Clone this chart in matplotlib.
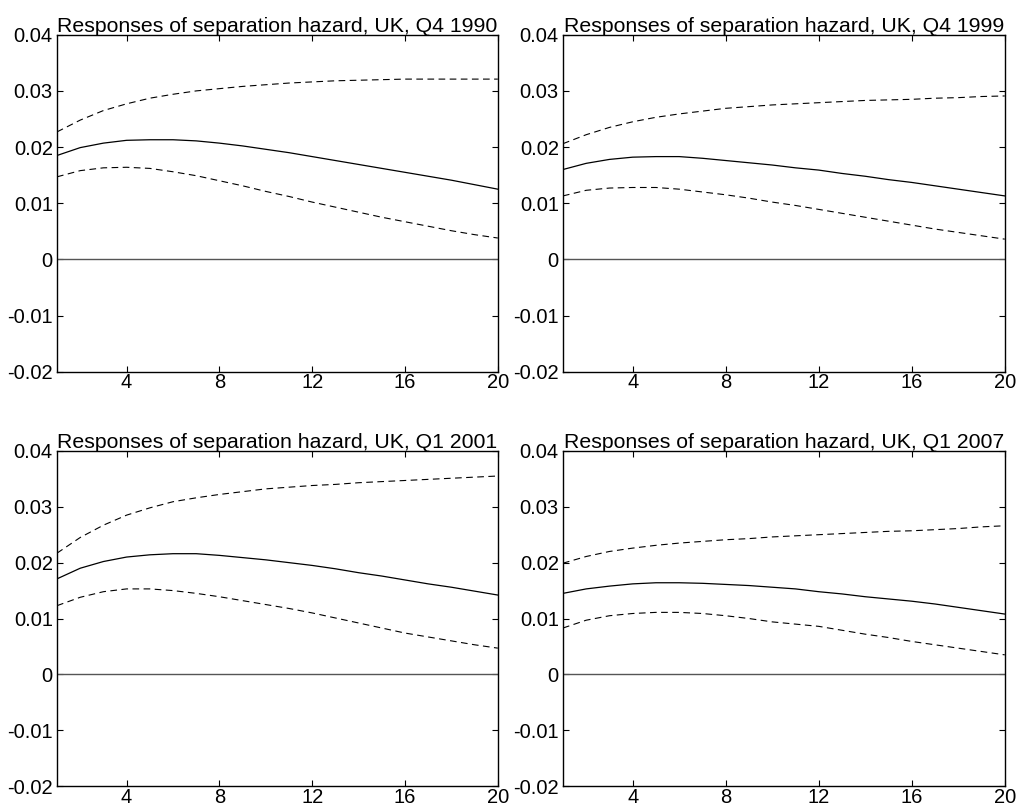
import numpy as np
import matplotlib
matplotlib.use("Agg")
import matplotlib.pyplot as plt
from matplotlib.ticker import FixedLocator, FuncFormatter

plt.rcParams["font.family"] = ["Liberation Sans", "DejaVu Sans"]

# ── Data ──────────────────────────────────────────────────────────────────────
horizon = np.arange(1, 21)

titles = [
    "Responses of separation hazard, UK, Q4 1990",
    "Responses of separation hazard, UK, Q4 1999",
    "Responses of separation hazard, UK, Q1 2001",
    "Responses of separation hazard, UK, Q1 2007",
]

q4_1990_mid = [0.0185, 0.0199, 0.0207, 0.0212, 0.0213, 0.0213, 0.0211, 0.0207, 0.0202, 0.0196,
               0.0190, 0.0183, 0.0176, 0.0169, 0.0162, 0.0155, 0.0148, 0.0141, 0.0133, 0.0125]
q4_1990_up = [0.0227, 0.0248, 0.0265, 0.0277, 0.0287, 0.0294, 0.0300, 0.0304, 0.0308, 0.0311,
              0.0314, 0.0316, 0.0318, 0.0319, 0.0320, 0.0321, 0.0321, 0.0321, 0.0321, 0.0321]
q4_1990_lo = [0.0147, 0.0158, 0.0163, 0.0164, 0.0162, 0.0156, 0.0149, 0.0140, 0.0131, 0.0121,
              0.0112, 0.0102, 0.0093, 0.0084, 0.0075, 0.0067, 0.0059, 0.0051, 0.0044, 0.0038]

q4_1999_mid = [0.0160, 0.0171, 0.0178, 0.0182, 0.0183, 0.0183, 0.0180, 0.0176, 0.0172, 0.0168,
               0.0163, 0.0159, 0.0153, 0.0148, 0.0142, 0.0137, 0.0131, 0.0125, 0.0119, 0.0113]
q4_1999_up = [0.0206, 0.0222, 0.0235, 0.0245, 0.0253, 0.0259, 0.0264, 0.0269, 0.0272, 0.0275,
              0.0277, 0.0279, 0.0281, 0.0283, 0.0284, 0.0285, 0.0287, 0.0288, 0.0290, 0.0291]
q4_1999_lo = [0.0113, 0.0123, 0.0127, 0.0128, 0.0128, 0.0125, 0.0120, 0.0115, 0.0109, 0.0102,
              0.0096, 0.0089, 0.0082, 0.0075, 0.0068, 0.0061, 0.0054, 0.0048, 0.0042, 0.0036]

q1_2001_mid = [0.0171, 0.0190, 0.0202, 0.0210, 0.0214, 0.0216, 0.0216, 0.0213, 0.0209, 0.0205,
               0.0200, 0.0195, 0.0189, 0.0182, 0.0176, 0.0169, 0.0162, 0.0156, 0.0149, 0.0142]
q1_2001_up = [0.0217, 0.0245, 0.0267, 0.0285, 0.0298, 0.0309, 0.0316, 0.0322, 0.0327, 0.0332,
              0.0335, 0.0338, 0.0340, 0.0343, 0.0345, 0.0347, 0.0349, 0.0351, 0.0353, 0.0355]
q1_2001_lo = [0.0123, 0.0138, 0.0148, 0.0153, 0.0153, 0.0150, 0.0145, 0.0139, 0.0132, 0.0125,
              0.0118, 0.0110, 0.0101, 0.0092, 0.0083, 0.0074, 0.0067, 0.0060, 0.0053, 0.0047]

q1_2007_mid = [0.0145, 0.0153, 0.0158, 0.0162, 0.0164, 0.0164, 0.0163, 0.0161, 0.0159, 0.0156,
               0.0153, 0.0148, 0.0144, 0.0139, 0.0135, 0.0131, 0.0126, 0.0120, 0.0114, 0.0108]
q1_2007_up = [0.0199, 0.0211, 0.0220, 0.0226, 0.0231, 0.0235, 0.0238, 0.0241, 0.0243, 0.0246,
              0.0248, 0.0250, 0.0252, 0.0254, 0.0256, 0.0257, 0.0259, 0.0261, 0.0264, 0.0266]
q1_2007_lo = [0.0083, 0.0097, 0.0105, 0.0109, 0.0111, 0.0111, 0.0109, 0.0105, 0.0100, 0.0094,
              0.0090, 0.0086, 0.0079, 0.0072, 0.0066, 0.0059, 0.0053, 0.0047, 0.0041, 0.0035]

x_ticks = [4, 8, 12, 16, 20]
y_ticks = [-0.02, -0.01, 0, 0.01, 0.02, 0.03, 0.04]

panels = [
    (q4_1990_mid, q4_1990_up, q4_1990_lo),
    (q4_1999_mid, q4_1999_up, q4_1999_lo),
    (q1_2001_mid, q1_2001_up, q1_2001_lo),
    (q1_2007_mid, q1_2007_up, q1_2007_lo),
]

# axes rectangles in figure fractions (left, bottom, width, height)
rects = [
    (0.056, 0.540, 0.433, 0.417),
    (0.553, 0.540, 0.434, 0.417),
    (0.056, 0.027, 0.433, 0.415),
    (0.553, 0.027, 0.434, 0.415),
]

fig = plt.figure(figsize=(10.18, 8.08), dpi=100)

for rect, title, (mid, up, lo) in zip(rects, titles, panels):
    ax = fig.add_axes(rect)
    ax.axhline(0, color="#555555", lw=1.0)
    ax.plot(horizon, mid, color="black", lw=0.9)
    ax.plot(horizon, up, color="black", lw=0.8, dashes=(6, 4))
    ax.plot(horizon, lo, color="black", lw=0.8, dashes=(6, 4))

    ax.set_xlim(1, 20)
    ax.set_ylim(-0.02, 0.04)
    ax.xaxis.set_major_locator(FixedLocator(x_ticks))
    ax.yaxis.set_major_locator(FixedLocator(y_ticks))
    ax.yaxis.set_major_formatter(FuncFormatter(lambda v, p: "%g" % round(v, 4)))
    ax.tick_params(direction="in", length=4, width=0.8, labelsize=14.5,
                   top=True, right=True, pad=3)
    ax.tick_params(axis="x", pad=1)
    for s in ax.spines.values():
        s.set_linewidth(1.0)
    ax.set_title(title, fontsize=15.3, pad=2)

fig.savefig("out.png", dpi=100)
